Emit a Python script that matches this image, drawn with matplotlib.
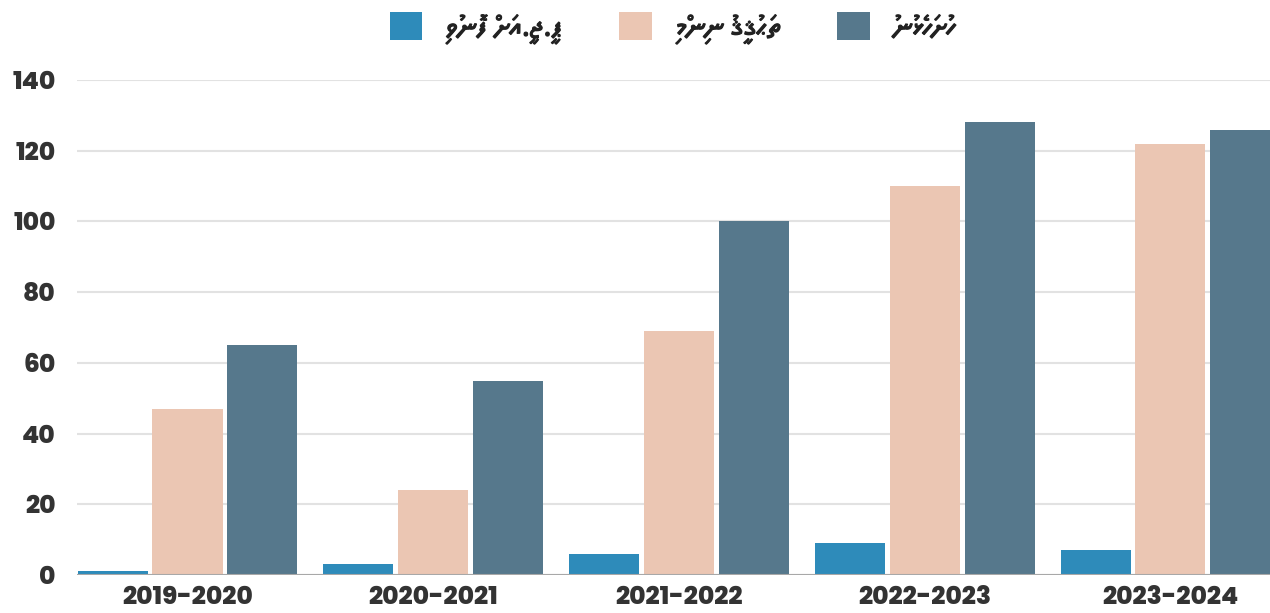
import unicodedata

import matplotlib
matplotlib.use("Agg")
import matplotlib.pyplot as plt
import matplotlib.patheffects as pe
import numpy as np
from matplotlib.patches import Patch

years = ["2019-2020", "2020-2021", "2021-2022", "2022-2023", "2023-2024"]
series_names = ["ޕީ.ޖީ.އަށް ފޮނުވި", "ތަޙުޤީޤު ނިންމި", "ހުށަހެޅުނު"]
sent_pg = [1, 3, 6, 9, 7]
concluded = [47, 24, 69, 110, 122]
submitted = [65, 55, 100, 128, 126]
y_ticks = [0, 20, 40, 60, 80, 100, 120, 140]

colors = ["#2E8BBA", "#EBC6B3", "#56788C"]
num_font = ["Poppins", "DejaVu Sans"]
thaana_font = ["Noto Sans Thaana", "DejaVu Sans"]


def visual_rtl(s):
    # matplotlib has no bidi: reverse base+mark clusters so Thaana reads right to left
    clusters = []
    for ch in s:
        if clusters and unicodedata.combining(ch):
            clusters[-1] += ch
        else:
            clusters.append(ch)
    return "".join(reversed(clusters))


fig = plt.figure(figsize=(12.7, 6.13), dpi=100)
ax = fig.add_axes([77 / 1270, 38 / 613, 1 - 77 / 1270, 495 / 613])

x = np.arange(len(years))
w = 0.285
step = 0.305
for i, (vals, c) in enumerate(zip([sent_pg, concluded, submitted], colors)):
    ax.bar(x + (i - 1) * step, vals, width=w, color=c, zorder=3)

ax.set_xlim(-0.4496, 4.405)
ax.set_ylim(0, 140)
ax.set_yticks(y_ticks)
ax.set_xticks(x)
ax.set_xticklabels(years)
ax.grid(axis="y", color="#e2e2e2", linewidth=1.5, zorder=0)
ax.axhline(0, color="#a8a8a8", linewidth=1.5, zorder=4)
for s in ax.spines.values():
    s.set_visible(False)
ax.tick_params(length=0)
ax.tick_params(axis="y", pad=15.5, labelsize=18, labelcolor="#333333")
ax.tick_params(axis="x", pad=8, labelsize=18, labelcolor="#333333")
for lab in ax.get_xticklabels() + ax.get_yticklabels():
    lab.set_fontweight(800)
    lab.set_family(num_font)

handles = [Patch(facecolor=c, edgecolor="none") for c in colors]
leg = fig.legend(handles, [visual_rtl(n) for n in series_names], loc="center",
                 bbox_to_anchor=(0.5295, 1 - 28 / 613), ncol=3, frameon=False,
                 handlelength=1.15, handleheight=1.15, columnspacing=2.0,
                 handletextpad=0.81, prop={"family": thaana_font, "size": 20.5})
for t in leg.get_texts():
    t.set_color("#222222")
    t.set_path_effects([pe.withStroke(linewidth=0.9, foreground="#222222")])

fig.savefig("out.png", dpi=100)
